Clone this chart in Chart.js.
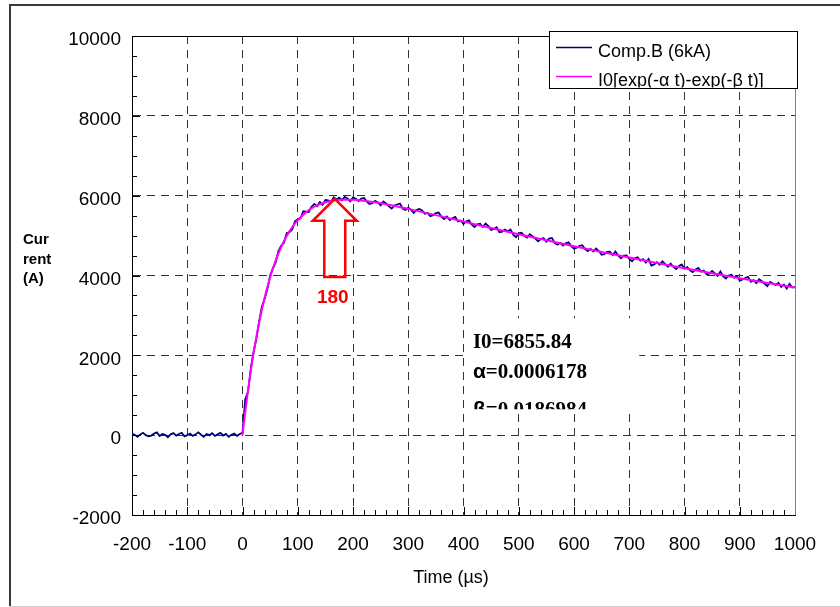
<!DOCTYPE html>
<html>
<head>
<meta charset="utf-8">
<script src="https://cdn.jsdelivr.net/npm/chart.js@4.4.0/dist/chart.umd.min.js"></script>
<style>
  html, body { margin: 0; padding: 0; background: #fff; }
  #wrap { width: 840px; height: 607px; }
</style>
</head>
<body>
<div id="wrap"><canvas id="chart" width="840" height="607"></canvas></div>
<script>
// measured record, one sample every 5 µs from -200 µs
const sampleStart = -200;
const sampleStep = 5;
const measuredCurrent = [
  30, 10, -40, 20, 60, 0, -30, -10, 40, 70, -20, 30, 10, -50, 20, 50, -10, 30, 60, -30,
  0, 40, -20, 20, 70, 10, -40, 30, 0, 50, -20, 20, 60, -10, 30, -40, 10, 40, -20, 30,
  // 0 .. 200
  60, 900, 1087, 1663, 2085, 2405, 2838, 3216, 3413, 3652, 3996, 4185, 4324, 4613, 4744, 4819,
  5059, 5086, 5151, 5355, 5408, 5433, 5609, 5597, 5589, 5724, 5794, 5738, 5837, 5773, 5894,
  5882, 5836, 5958, 5907, 5953, 5887, 5970, 5930, 5859, 5955,
  // 205 .. 400
  5920, 5864, 5928, 5941, 5852, 5792, 5813, 5873, 5831, 5759, 5856, 5804, 5730, 5677, 5753,
  5779, 5804, 5679, 5644, 5699, 5643, 5568, 5642, 5667, 5631, 5546, 5570, 5484, 5509, 5563,
  5577, 5471, 5415, 5478, 5392, 5436, 5470, 5353, 5377, 5291,
  // 405 .. 600
  5355, 5379, 5273, 5216, 5280, 5294, 5218, 5302, 5236, 5140, 5164, 5209, 5083, 5098, 5152,
  5107, 5151, 5025, 4960, 5054, 5069, 4993, 4948, 5033, 4987, 4922, 4857, 4921, 4936, 4851,
  4926, 4941, 4816, 4771, 4816, 4751, 4807, 4832, 4737, 4672,
  // 605 .. 800
  4698, 4743, 4759, 4664, 4610, 4666, 4601, 4677, 4613, 4518, 4534, 4590, 4596, 4512, 4598,
  4495, 4431, 4497, 4503, 4419, 4355, 4432, 4458, 4375, 4411, 4327, 4414, 4250, 4277, 4333,
  4270, 4357, 4284, 4221, 4297, 4214, 4161, 4238, 4275, 4172,
  // 805 .. 1000
  4209, 4127, 4084, 4151, 4188, 4096, 4123, 4030, 4048, 4115, 4053, 3990, 4098, 3976, 3923,
  4001, 4019, 3946, 3984, 3872, 3900, 3938, 3966, 3844, 3882, 3810, 3908, 3856, 3794, 3732,
  3840, 3799, 3757, 3815, 3714, 3772, 3670, 3789, 3697, 3716
];

// fitted curve
const fitTime = [0, 5, 10, 15, 20, 30, 40, 50, 60, 70, 80, 90, 100, 120, 140, 160, 180, 200,
  220, 240, 260, 280, 300, 350, 400, 450, 500, 550, 600, 650, 700, 750, 800, 850, 900, 950, 1000];
const fitCurrent = [0, 590, 1127, 1613, 2055, 2818, 3443, 3956, 4374, 4714, 4989, 5211, 5388,
  5639, 5787, 5866, 5897, 5895, 5871, 5833, 5784, 5729, 5669, 5513, 5351, 5190, 5034, 4881,
  4732, 4588, 4449, 4313, 4182, 4055, 3932, 3812, 3696];

const xTicks = [-200, -100, 0, 100, 200, 300, 400, 500, 600, 700, 800, 900, 1000];
const yTicks = [-2000, 0, 2000, 4000, 6000, 8000, 10000];
const seriesNames = ["Comp.B (6kA)", "I0[exp(-\u03b1 t)-exp(-\u03b2 t)]"];
const xTitle = "Time (\u00b5s)";
const yTitle = ["Cur", "rent", "(A)"];
const fitParams = [["I0", "=6855.84"], ["\u03b1", "=0.0006178"], ["\u03b2", "=0.0186984"]];
const peakLabel = "180";

// annotation anchors (data units)
const arrowTime = 167, arrowTip = 5920, arrowHead = 5370, arrowBase = 3960, peakLabelAt = 3440;
const paramTime = 417, paramRows = [2180, 1430, 480], paramClip = 650;

const sans = "'Liberation Sans', Arial, sans-serif";
const serif = "'Liberation Serif', 'Times New Roman', serif";

const measuredPoints = measuredCurrent.map((v, i) => ({ x: sampleStart + i * sampleStep, y: v }));
const fitPoints = fitTime.map((t, i) => ({ x: t, y: fitCurrent[i] }));

const decor = {
  id: "decor",
  afterDraw(chart) {
    const { ctx, chartArea: a, scales: { x, y } } = chart;
    ctx.save();

    // outer frame
    ctx.strokeStyle = "#3a3a3a";
    ctx.lineWidth = 2;
    ctx.beginPath();
    ctx.moveTo(10, 606); ctx.lineTo(10, 5); ctx.lineTo(840, 5);
    ctx.stroke();
    ctx.strokeStyle = "#d0d0d0";
    ctx.lineWidth = 1;
    ctx.beginPath(); ctx.moveTo(10, 606.5); ctx.lineTo(840, 606.5); ctx.stroke();

    // minor ticks, inside
    ctx.strokeStyle = "#000";
    ctx.lineWidth = 1;
    ctx.beginPath();
    for (let v = -2000; v <= 10000; v += 500) {
      const py = Math.round(y.getPixelForValue(v)) + 0.5;
      const len = v % 2000 === 0 ? 8 : 5;
      ctx.moveTo(a.left, py); ctx.lineTo(a.left + len, py);
    }
    for (let t = -200; t <= 1000; t += 20) {
      const px = Math.round(x.getPixelForValue(t)) + 0.5;
      const len = t % 100 === 0 ? 8 : 5;
      ctx.moveTo(px, a.bottom); ctx.lineTo(px, a.bottom - len);
    }
    ctx.stroke();

    // top and right frame of the plot
    ctx.beginPath();
    ctx.moveTo(Math.round(a.left) + 0.5, Math.round(a.top) + 0.5);
    ctx.lineTo(Math.round(a.right) + 0.5, Math.round(a.top) + 0.5);
    ctx.stroke();
    ctx.strokeStyle = "#808080";
    ctx.beginPath();
    ctx.moveTo(Math.round(a.right) + 0.5, a.top);
    ctx.lineTo(Math.round(a.right) + 0.5, a.bottom);
    ctx.stroke();

    // parameter text box
    const bx0 = x.getPixelForValue(paramTime) - 7, bx1 = x.getPixelForValue(718);
    const by0 = y.getPixelForValue(2930), by1 = y.getPixelForValue(paramClip);
    ctx.fillStyle = "#fff";
    ctx.fillRect(bx0, by0, bx1 - bx0, by1 - by0);
    ctx.save();
    ctx.beginPath(); ctx.rect(bx0, by0, bx1 - bx0, by1 - by0); ctx.clip();
    ctx.fillStyle = "#000";
    ctx.textBaseline = "alphabetic";
    fitParams.forEach((row, i) => {
      let px = x.getPixelForValue(paramTime);
      const py = y.getPixelForValue(paramRows[i]);
      const greek = i > 0;
      ctx.font = greek ? "bold 21px " + sans : "bold 21px " + serif;
      ctx.fillText(row[0], px, py);
      px += ctx.measureText(row[0]).width;
      ctx.font = "bold 21px " + serif;
      ctx.fillText(row[1], px, py);
    });
    ctx.restore();

    // hollow arrow to the peak
    const ax = x.getPixelForValue(arrowTime);
    const ty = y.getPixelForValue(arrowTip);
    const hy = y.getPixelForValue(arrowHead);
    const by = y.getPixelForValue(arrowBase);
    ctx.strokeStyle = "#ff0000";
    ctx.lineWidth = 2.5;
    ctx.lineJoin = "miter";
    ctx.beginPath();
    ctx.moveTo(ax, ty);
    ctx.lineTo(ax + 22, hy); ctx.lineTo(ax + 10.5, hy); ctx.lineTo(ax + 10.5, by);
    ctx.lineTo(ax - 10.5, by); ctx.lineTo(ax - 10.5, hy); ctx.lineTo(ax - 22, hy);
    ctx.closePath();
    ctx.stroke();
    ctx.fillStyle = "#ff0000";
    ctx.font = "bold 19px " + sans;
    ctx.textAlign = "center";
    ctx.textBaseline = "middle";
    ctx.fillText(peakLabel, ax - 2, y.getPixelForValue(peakLabelAt));

    // legend box
    const lx = 549.5, ly = 31.5, lw = 248, lh = 57;
    ctx.fillStyle = "#fff";
    ctx.fillRect(lx, ly, lw, lh);
    ctx.strokeStyle = "#000";
    ctx.lineWidth = 1;
    ctx.strokeRect(lx, ly, lw, lh);
    ctx.save();
    ctx.beginPath(); ctx.rect(lx + 1, ly + 1, lw - 2, lh - 2); ctx.clip();
    const ds = chart.data.datasets;
    const rows = [ds[1], ds[0]];
    ctx.textAlign = "left";
    ctx.font = "18px " + sans;
    rows.forEach((d, i) => {
      const ry = ly + 16 + i * 29;
      ctx.strokeStyle = d.borderColor;
      ctx.lineWidth = 1.5;
      ctx.beginPath(); ctx.moveTo(556, ry); ctx.lineTo(592, ry); ctx.stroke();
      ctx.fillStyle = "#000";
      ctx.fillText(d.label, 598, ry + 5);
    });
    ctx.restore();

    // axis titles
    ctx.fillStyle = "#000";
    ctx.textAlign = "left";
    ctx.textBaseline = "alphabetic";
    ctx.font = "bold 15px " + sans;
    yTitle.forEach((s, i) => ctx.fillText(s, 23, 244 + i * 19.5));
    ctx.textAlign = "center";
    ctx.textBaseline = "middle";
    ctx.font = "18px " + sans;
    ctx.fillText(xTitle, 451, 578);

    ctx.restore();
  }
};

const edgeColor = (lo, hi) => (c) =>
  (c.tick && (c.tick.value === lo || c.tick.value === hi)) ? "rgba(0,0,0,0)" : "#333";

new Chart(document.getElementById("chart"), {
  type: "line",
  data: {
    datasets: [
      {
        label: seriesNames[1], data: fitPoints, borderColor: "#ff00ff", borderWidth: 2,
        pointRadius: 0, cubicInterpolationMode: "monotone", order: 0
      },
      {
        label: seriesNames[0], data: measuredPoints, borderColor: "#000080", borderWidth: 1.8,
        pointRadius: 0, tension: 0, order: 1
      }
    ]
  },
  options: {
    responsive: false,
    animation: false,
    layout: { padding: { left: 0, right: 45, top: 36, bottom: 0 } },
    plugins: { legend: { display: false }, tooltip: { enabled: false } },
    scales: {
      x: {
        type: "linear", min: -200, max: 1000,
        afterBuildTicks: (s) => { s.ticks = xTicks.map((v) => ({ value: v })); },
        afterFit: (s) => { s.height = 92; },
        grid: { color: edgeColor(-200, 1000), lineWidth: 1, drawTicks: false },
        border: { display: true, color: "#000", width: 1, dash: [8, 6] },
        ticks: {
          font: { family: sans, size: 19 }, color: "#000", padding: 18,
          maxRotation: 0, autoSkip: false, callback: (v) => String(v)
        }
      },
      y: {
        type: "linear", min: -2000, max: 10000,
        afterBuildTicks: (s) => { s.ticks = yTicks.map((v) => ({ value: v })); },
        afterFit: (s) => { s.width = 132; },
        grid: { color: edgeColor(-2000, 10000), lineWidth: 1, drawTicks: false },
        border: { display: true, color: "#000", width: 1, dash: [8, 6] },
        ticks: {
          font: { family: sans, size: 19 }, color: "#000", padding: 11, labelOffset: 4,
          callback: (v) => String(v)
        }
      }
    }
  },
  plugins: [decor]
});
</script>
</body>
</html>
